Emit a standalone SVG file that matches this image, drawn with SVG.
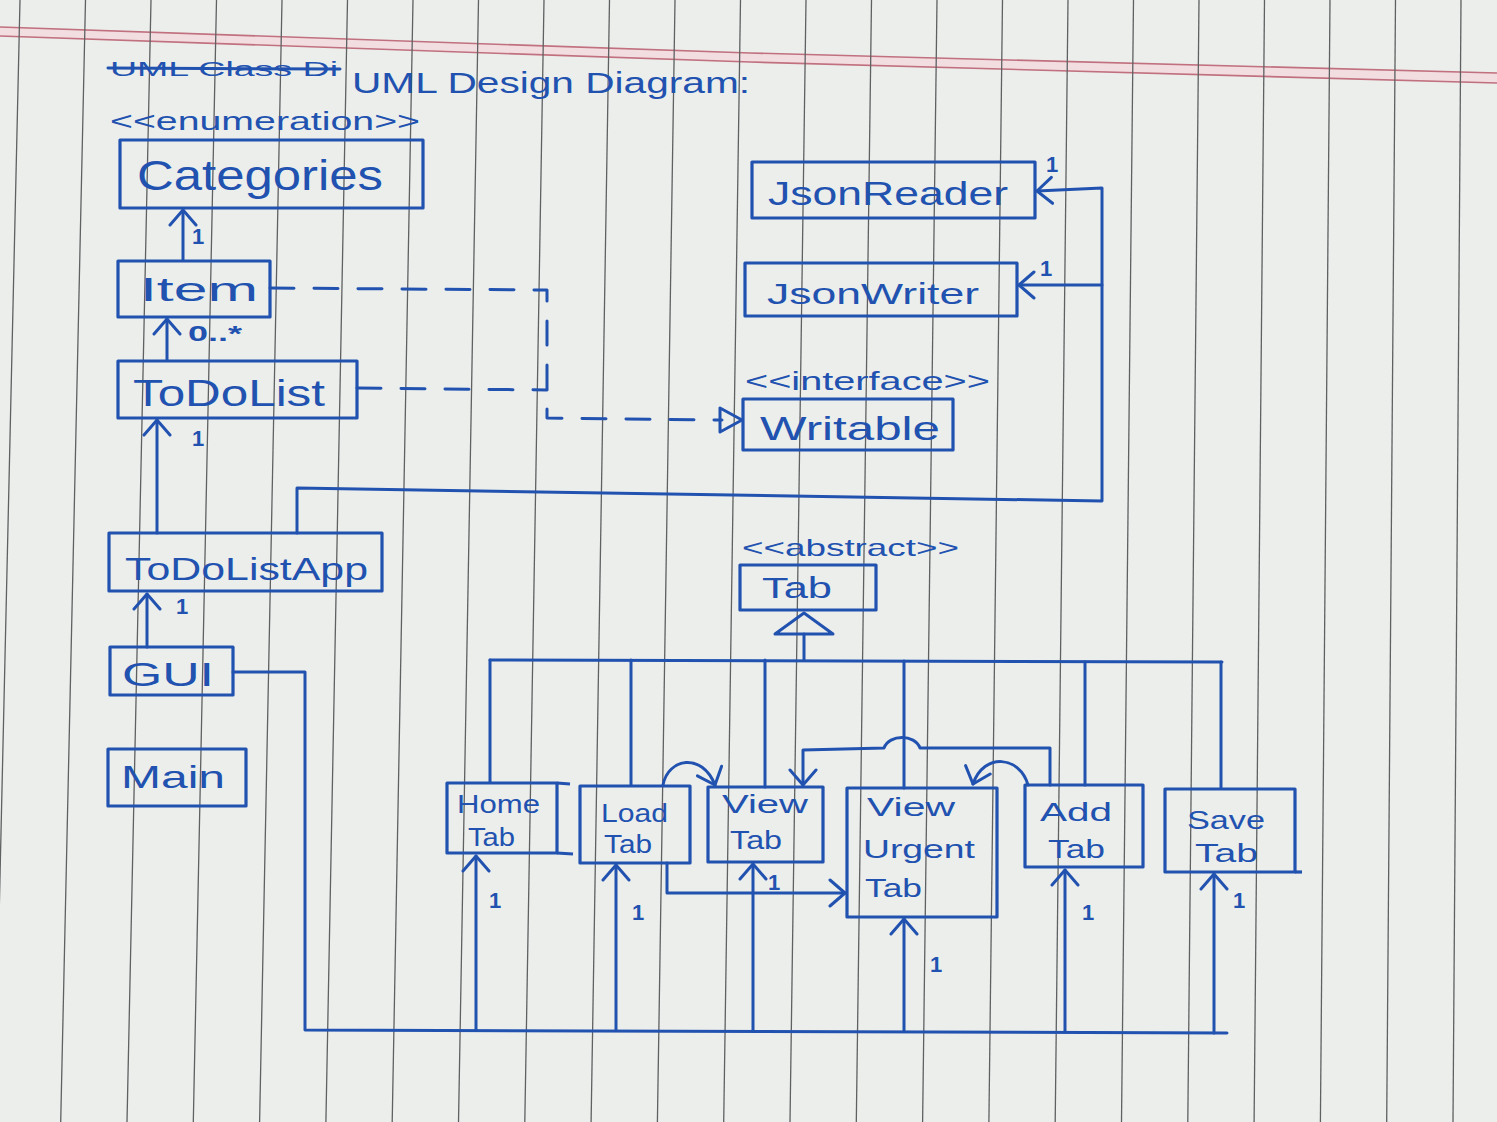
<svg xmlns="http://www.w3.org/2000/svg" width="1497" height="1122" viewBox="0 0 1497 1122">
<defs>
<style>
.paper{fill:#eceeec}
.rule{stroke:#5f6062;stroke-width:1.3;fill:none}
.red{stroke:#c0707e;stroke-width:1.6;fill:none}
.box{fill:none;stroke:#2152b0;stroke-width:3.2;stroke-linejoin:round}
.c{fill:none;stroke:#2152b0;stroke-width:3;stroke-linejoin:round;stroke-linecap:round}
.a{marker-end:url(#arr)}
.dash{stroke-dasharray:24 20}
.t{font-family:"Liberation Sans","DejaVu Sans",sans-serif;fill:#2152b0}
.n{font-family:"Liberation Sans","DejaVu Sans",sans-serif;fill:#2152b0;font-size:22px;font-weight:bold}
</style>
<marker id="arr" markerUnits="userSpaceOnUse" viewBox="0 0 20 30" markerWidth="20" markerHeight="30" refX="17" refY="15" orient="auto">
<path d="M2,2 L17,15 L2,28" fill="none" stroke="#2152b0" stroke-width="3" stroke-linecap="round" stroke-linejoin="round"/>
</marker>
</defs>

<g id="paper">
<rect class="paper" x="0" y="0" width="1497" height="1122"/>
<polygon points="0,27 750,53 1497,73 1497,83 750,62 0,36" fill="#f2dde0"/>
<polyline class="red" points="0,27 750,53 1497,73"/>
<polyline class="red" points="0,36 750,62 1497,83"/>
<line class="rule" x1="20" y1="0" x2="-5.6" y2="1122"/>
<line class="rule" x1="85.5" y1="0" x2="60.7" y2="1122"/>
<line class="rule" x1="151" y1="0" x2="127" y2="1122"/>
<line class="rule" x1="216.5" y1="0" x2="193.3" y2="1122"/>
<line class="rule" x1="282" y1="0" x2="259.6" y2="1122"/>
<line class="rule" x1="347.5" y1="0" x2="325.9" y2="1122"/>
<line class="rule" x1="413" y1="0" x2="392.2" y2="1122"/>
<line class="rule" x1="478.5" y1="0" x2="458.5" y2="1122"/>
<line class="rule" x1="544" y1="0" x2="524.8" y2="1122"/>
<line class="rule" x1="609.5" y1="0" x2="591.1" y2="1122"/>
<line class="rule" x1="675" y1="0" x2="657.4" y2="1122"/>
<line class="rule" x1="740.5" y1="0" x2="723.7" y2="1122"/>
<line class="rule" x1="806" y1="0" x2="790" y2="1122"/>
<line class="rule" x1="871.5" y1="0" x2="856.3" y2="1122"/>
<line class="rule" x1="937" y1="0" x2="922.6" y2="1122"/>
<line class="rule" x1="1002.5" y1="0" x2="988.9" y2="1122"/>
<line class="rule" x1="1068" y1="0" x2="1055.2" y2="1122"/>
<line class="rule" x1="1133.5" y1="0" x2="1121.5" y2="1122"/>
<line class="rule" x1="1199" y1="0" x2="1187.8" y2="1122"/>
<line class="rule" x1="1264.5" y1="0" x2="1254.1" y2="1122"/>
<line class="rule" x1="1330" y1="0" x2="1320.4" y2="1122"/>
<line class="rule" x1="1395.5" y1="0" x2="1386.7" y2="1122"/>
<line class="rule" x1="1461" y1="0" x2="1453" y2="1122"/>
</g>

<g id="title">
<text class="t" x="110" y="76" font-size="20" textLength="228" lengthAdjust="spacingAndGlyphs">UML Class Di</text>
<line class="c" x1="108" y1="68" x2="340" y2="69"/>
<text class="t" x="352" y="93" font-size="30" textLength="398" lengthAdjust="spacingAndGlyphs">UML Design Diagram:</text>
</g>

<g id="connectors">
<line class="c a" x1="183" y1="260" x2="183" y2="210"/>
<line class="c a" x1="167" y1="360" x2="167" y2="319"/>
<line class="c a" x1="157" y1="533" x2="157" y2="420"/>
<line class="c a" x1="147" y1="647" x2="147" y2="594"/>
<polyline class="c a" points="297,533 297,488 1102,501 1102,188 1037,191"/>
<line class="c a" x1="1102" y1="285" x2="1019" y2="285"/>
<polyline class="c dash" points="270,288 547,290 547,418 722,420"/>
<line class="c dash" x1="357" y1="388" x2="547" y2="390"/>
<polygon class="c" points="742,420 720,408 720,432" fill="#eceeec"/>
<polygon class="c" points="804,613 775,634 833,634" fill="#eceeec"/>
<line class="c" x1="804" y1="634" x2="804" y2="660"/>
<line class="c" x1="490" y1="660" x2="1222" y2="662"/>
<line class="c" x1="490" y1="660" x2="490" y2="782"/>
<line class="c" x1="631" y1="660" x2="631" y2="785"/>
<line class="c" x1="765" y1="660" x2="765" y2="787"/>
<line class="c" x1="904" y1="661" x2="904" y2="788"/>
<line class="c" x1="1085" y1="662" x2="1085" y2="785"/>
<line class="c" x1="1221" y1="662" x2="1221" y2="788"/>
<path class="c a" d="M663,785 C668,758 702,752 715,785"/>
<polyline class="c a" points="667,863 667,893 845,893"/>
<path class="c a" d="M1050,785 L1050,748 L920,748 C915,734 889,734 884,748 L803,750 L803,785"/>
<path class="c a" d="M1028,785 C1020,756 984,752 973,784"/>
<polyline class="c" points="233,672 305,672 305,1030 1227,1033"/>
<line class="c a" x1="476" y1="1030" x2="476" y2="856"/>
<line class="c a" x1="616" y1="1030" x2="616" y2="865"/>
<line class="c a" x1="753" y1="1031" x2="753" y2="864"/>
<line class="c a" x1="904" y1="1031" x2="904" y2="919"/>
<line class="c a" x1="1065" y1="1032" x2="1065" y2="870"/>
<line class="c a" x1="1214" y1="1033" x2="1214" y2="874"/>
<text class="n" x="192" y="244">1</text>
<text class="n" x="188" y="341" textLength="54" lengthAdjust="spacingAndGlyphs">0..*</text>
<text class="n" x="192" y="446">1</text>
<text class="n" x="176" y="614">1</text>
<text class="n" x="1046" y="172">1</text>
<text class="n" x="1040" y="276">1</text>
<text class="n" x="489" y="908">1</text>
<text class="n" x="632" y="920">1</text>
<text class="n" x="768" y="890">1</text>
<text class="n" x="930" y="972">1</text>
<text class="n" x="1082" y="920">1</text>
<text class="n" x="1233" y="908">1</text>
</g>

<g id="Categories">
<text class="t" x="110" y="130" font-size="26" textLength="310" lengthAdjust="spacingAndGlyphs">&lt;&lt;enumeration&gt;&gt;</text>
<rect class="box" x="120" y="140" width="303" height="68"/>
<text class="t" x="137" y="190" font-size="42" textLength="246" lengthAdjust="spacingAndGlyphs">Categories</text>
</g>
<g id="Item">
<rect class="box" x="118" y="261" width="152" height="56"/>
<text class="t" x="140" y="301" font-size="34" textLength="118" lengthAdjust="spacingAndGlyphs">Item</text>
</g>
<g id="ToDoList">
<rect class="box" x="118" y="361" width="239" height="57"/>
<text class="t" x="133" y="406" font-size="36" textLength="192" lengthAdjust="spacingAndGlyphs">ToDoList</text>
</g>
<g id="ToDoListApp">
<rect class="box" x="109" y="533" width="273" height="58"/>
<text class="t" x="125" y="580" font-size="32" textLength="243" lengthAdjust="spacingAndGlyphs">ToDoListApp</text>
</g>
<g id="GUI">
<rect class="box" x="110" y="647" width="123" height="48"/>
<text class="t" x="122" y="686" font-size="34" textLength="92" lengthAdjust="spacingAndGlyphs">GUI</text>
</g>
<g id="Main">
<rect class="box" x="108" y="749" width="138" height="57"/>
<text class="t" x="121" y="788" font-size="32" textLength="104" lengthAdjust="spacingAndGlyphs">Main</text>
</g>
<g id="JsonReader">
<rect class="box" x="752" y="162" width="283" height="56"/>
<text class="t" x="768" y="205" font-size="34" textLength="240" lengthAdjust="spacingAndGlyphs">JsonReader</text>
</g>
<g id="JsonWriter">
<rect class="box" x="745" y="263" width="272" height="53"/>
<text class="t" x="767" y="304" font-size="30" textLength="212" lengthAdjust="spacingAndGlyphs">JsonWriter</text>
</g>
<g id="Writable">
<text class="t" x="745" y="390" font-size="26" textLength="245" lengthAdjust="spacingAndGlyphs">&lt;&lt;interface&gt;&gt;</text>
<rect class="box" x="743" y="399" width="210" height="51"/>
<text class="t" x="760" y="440" font-size="34" textLength="180" lengthAdjust="spacingAndGlyphs">Writable</text>
</g>
<g id="Tab">
<text class="t" x="742" y="556" font-size="24" textLength="217" lengthAdjust="spacingAndGlyphs">&lt;&lt;abstract&gt;&gt;</text>
<rect class="box" x="740" y="565" width="136" height="45"/>
<text class="t" x="762" y="598" font-size="30" textLength="70" lengthAdjust="spacingAndGlyphs">Tab</text>
</g>
<g id="HomeTab">
<rect class="box" x="447" y="783" width="110" height="70"/>
<line class="box" x1="557" y1="783" x2="570" y2="784"/>
<line class="box" x1="557" y1="853" x2="573" y2="854"/>
<text class="t" x="457" y="813" font-size="26" textLength="83" lengthAdjust="spacingAndGlyphs">Home</text>
<text class="t" x="468" y="846" font-size="26" textLength="47" lengthAdjust="spacingAndGlyphs">Tab</text>
</g>
<g id="LoadTab">
<rect class="box" x="580" y="786" width="110" height="77"/>
<text class="t" x="601" y="822" font-size="26" textLength="67" lengthAdjust="spacingAndGlyphs">Load</text>
<text class="t" x="604" y="853" font-size="26" textLength="48" lengthAdjust="spacingAndGlyphs">Tab</text>
</g>
<g id="ViewTab">
<rect class="box" x="708" y="787" width="115" height="75"/>
<text class="t" x="722" y="813" font-size="26" textLength="86" lengthAdjust="spacingAndGlyphs">View</text>
<text class="t" x="730" y="849" font-size="26" textLength="52" lengthAdjust="spacingAndGlyphs">Tab</text>
</g>
<g id="ViewUrgentTab">
<rect class="box" x="847" y="788" width="150" height="129"/>
<text class="t" x="867" y="816" font-size="26" textLength="88" lengthAdjust="spacingAndGlyphs">View</text>
<text class="t" x="863" y="858" font-size="26" textLength="112" lengthAdjust="spacingAndGlyphs">Urgent</text>
<text class="t" x="865" y="897" font-size="26" textLength="57" lengthAdjust="spacingAndGlyphs">Tab</text>
</g>
<g id="AddTab">
<rect class="box" x="1025" y="785" width="118" height="82"/>
<text class="t" x="1040" y="821" font-size="26" textLength="72" lengthAdjust="spacingAndGlyphs">Add</text>
<text class="t" x="1048" y="858" font-size="26" textLength="57" lengthAdjust="spacingAndGlyphs">Tab</text>
</g>
<g id="SaveTab">
<rect class="box" x="1165" y="789" width="130" height="83"/>
<line class="box" x1="1295" y1="872" x2="1302" y2="872"/>
<text class="t" x="1187" y="829" font-size="26" textLength="78" lengthAdjust="spacingAndGlyphs">Save</text>
<text class="t" x="1195" y="862" font-size="26" textLength="63" lengthAdjust="spacingAndGlyphs">Tab</text>
</g>
</svg>
